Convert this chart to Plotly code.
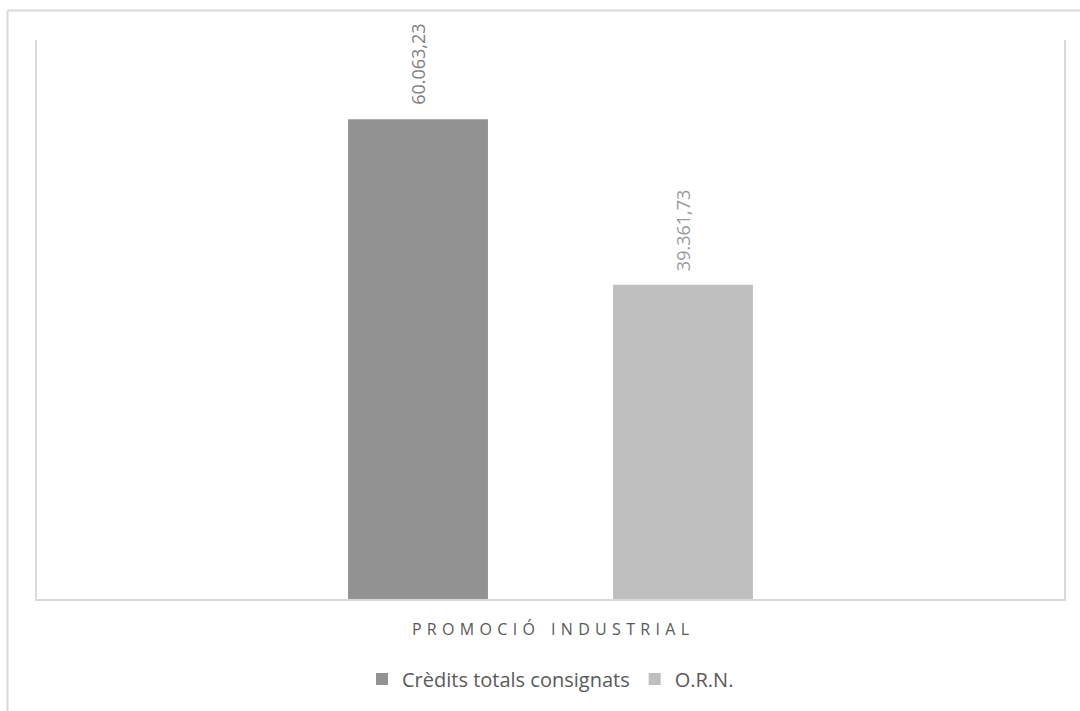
import plotly.graph_objects as go

categories = ["PROMOCIÓ INDUSTRIAL"]
series_names = ["Crèdits totals consignats", "O.R.N."]
credits_values = [60063.23]
orn_values = [39361.73]
colors = ["#929292", "#bfbfbf"]
label_colors = ["#7f7f7f", "#9a9a9a"]

FONT = "Open Sans, Liberation Sans, sans-serif"


def fmt(v):
    s = f"{v:,.2f}"
    return s.replace(",", "X").replace(".", ",").replace("X", ".")


def spaced(t):
    sp = "\u2004"
    return sp.join(list(t)).replace(sp + " " + sp, sp + sp + sp)


W, H = 1080, 711
L, R, T, B = 37, 16, 40, 112
plot_w = W - L - R
plot_h = H - T - B

fig = go.Figure()
all_vals = [credits_values, orn_values]
for name, vals, col in zip(series_names, all_vals, colors):
    fig.add_trace(go.Bar(
        name=name, x=[spaced(c) for c in categories], y=vals,
        marker=dict(color=col, line=dict(width=0)),
        hoverinfo="skip",
    ))

bargap = 0.484
slot = plot_w * (1 - bargap) / 2
for i, (vals, lc) in enumerate(zip(all_vals, label_colors)):
    for c, v in zip(categories, vals):
        fig.add_annotation(
            x=spaced(c), y=v, text=fmt(v), showarrow=False,
            textangle=-90, yanchor="bottom", xanchor="center",
            xshift=(i - 0.5) * slot, yshift=12,
            font=dict(family=FONT, size=18, color=lc),
        )

fig.update_layout(
    width=W, height=H,
    margin=dict(l=L, r=R, t=T, b=B),
    paper_bgcolor="white", plot_bgcolor="white",
    barmode="group", bargap=bargap, bargroupgap=0.472,
    showlegend=True,
    legend=dict(orientation="h", x=0.5, xanchor="center", y=-0.143, yanchor="middle",
                font=dict(family=FONT, size=20, color="#595959"),
                itemwidth=30, tracegroupgap=0),
    xaxis=dict(showline=True, linecolor="#d9d9d9", linewidth=2, showgrid=False,
               ticks="", ticklabelstandoff=15,
               tickfont=dict(family=FONT, size=16, color="#595959")),
    yaxis=dict(range=[0, 70000], showline=True, mirror=True, linecolor="#d9d9d9", linewidth=2,
               showgrid=False, showticklabels=False, ticks="", zeroline=False),
    shapes=[
        dict(type="line", xref="paper", yref="paper",
             x0=(7.5 - L) / plot_w, x1=(W + 5 - L) / plot_w,
             y0=(H - B - 10.5) / plot_h, y1=(H - B - 10.5) / plot_h,
             line=dict(color="#d9d9d9", width=2)),
        dict(type="line", xref="paper", yref="paper",
             x0=(7.5 - L) / plot_w, x1=(7.5 - L) / plot_w,
             y0=(H - B - 10.5) / plot_h, y1=(H - B - H - 5) / plot_h,
             line=dict(color="#d9d9d9", width=2)),
    ],
)

fig.write_html("out.html", config={"displayModeBar": False},
               post_script="document.body.style.margin='0px';document.body.style.overflow='hidden';")
